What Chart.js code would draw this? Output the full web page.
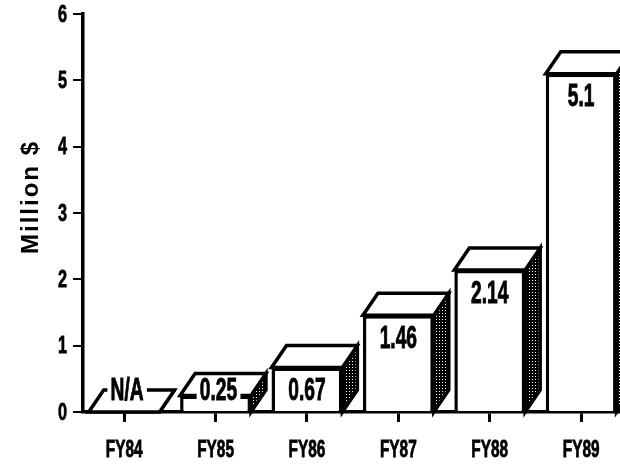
<!DOCTYPE html>
<html><head><meta charset="utf-8">
<script src="https://cdn.jsdelivr.net/npm/chart.js@4/dist/chart.umd.min.js"></script>
<style>html,body{margin:0;padding:0;background:#fff;overflow:hidden}#wrap{width:620px;height:464px;position:relative}</style>
</head><body><div id="wrap"><canvas id="c"></canvas></div>
<script>
const categories = ['FY84', 'FY85', 'FY86', 'FY87', 'FY88', 'FY89'];
const values = [null, 0.25, 0.67, 1.46, 2.14, 5.1];
const valueLabels = ['N/A', '0.25', '0.67', '1.46', '2.14', '5.1'];
const yTicks = [0, 1, 2, 3, 4, 5, 6];
const axisTitle = 'Million $';

const SANS = "'Liberation Sans', Arial, Helvetica, sans-serif";
const DX = 15, DY = 22;

function makePattern(ctx) {
  const p = document.createElement('canvas'); p.width = 3; p.height = 3;
  const g = p.getContext('2d');
  g.fillStyle = '#000'; g.fillRect(0, 0, 3, 3);
  g.fillStyle = '#fff'; g.fillRect(1, 1, 1, 1);
  return ctx.createPattern(p, 'repeat');
}

// draw narrow, tall text like the condensed face of the original
function narrowText(ctx, txt, x, y, size, sx, sy, align) {
  ctx.save();
  ctx.translate(x, y);
  ctx.scale(sx, sy);
  ctx.font = 'bold ' + size + 'px ' + SANS;
  ctx.textAlign = align || 'center';
  ctx.textBaseline = 'middle';
  ctx.fillStyle = '#000';
  ctx.strokeStyle = '#000';
  ctx.lineWidth = 0.7;
  ctx.fillText(txt, 0, 0);
  ctx.strokeText(txt, 0, 0);
  ctx.restore();
}

const box3d = {
  id: 'box3d',
  afterDatasetsDraw(chart) {
    const ctx = chart.ctx, meta = chart.getDatasetMeta(0);
    const xs = chart.scales.x, ys = chart.scales.y;
    const base = ys.getPixelForValue(0);
    const ref = meta.data.find((el, i) => values[i] != null);
    const w = ref.width;
    const pat = makePattern(ctx);
    ctx.save();
    ctx.lineWidth = 3.5; ctx.strokeStyle = '#000'; ctx.lineJoin = 'miter';
    categories.forEach((c, i) => {
      const cx = xs.getPixelForValue(i);
      const top = values[i] == null ? base : ys.getPixelForValue(values[i]);
      const l = cx - w / 2, r = cx + w / 2;
      // side face
      ctx.beginPath();
      ctx.moveTo(r, top); ctx.lineTo(r + DX, top - DY); ctx.lineTo(r + DX, base - DY); ctx.lineTo(r, base);
      ctx.closePath();
      ctx.fillStyle = pat; ctx.fill(); ctx.stroke();
      // top face
      ctx.beginPath();
      ctx.moveTo(l, top); ctx.lineTo(l + DX, top - DY); ctx.lineTo(r + DX, top - DY); ctx.lineTo(r, top);
      ctx.closePath();
      ctx.fillStyle = '#fff'; ctx.fill(); ctx.stroke();
      // value label
      const txt = valueLabels[i];
      const small = values[i] == null || (base - top) < 30;
      let tx, ty;
      if (small) {
        tx = cx + 3; ty = base - DY + 1;
        ctx.font = 'bold 24px ' + SANS;
        const tw = ctx.measureText(txt).width * 0.81;
        ctx.fillStyle = '#fff';
        ctx.fillRect(tx - tw / 2 - 3, ty - 12, tw + 6, 24);
      } else {
        tx = cx; ty = top + 24;
      }
      narrowText(ctx, txt, tx, ty, 24, 0.8, 1.3, 'center');
    });
    ctx.restore();
  },
  afterDraw(chart) {
    const ctx = chart.ctx;
    const xs = chart.scales.x, ys = chart.scales.y;
    // category labels
    categories.forEach((c, i) => {
      narrowText(ctx, c, xs.getPixelForValue(i), xs.top + 38, 20, 0.77, 1.22, 'center');
    });
    // value axis labels
    yTicks.forEach(v => {
      narrowText(ctx, String(v), ys.right - 16, ys.getPixelForValue(v) + 1, 22, 0.74, 1.1, 'right');
    });
    // axis title
    ctx.save();
    ctx.translate(31, 197);
    ctx.rotate(-Math.PI / 2);
    ctx.font = 'bold 24px ' + SANS;
    try { ctx.letterSpacing = '2px'; } catch (e) {}
    ctx.textAlign = 'center'; ctx.textBaseline = 'middle';
    ctx.fillStyle = '#000';
    ctx.fillText(axisTitle, 0, 0);
    ctx.restore();
  }
};

new Chart(document.getElementById('c'), {
  type: 'bar',
  data: {
    datasets: [{
      data: values.map((v, i) => ({ x: i, y: v })),
      backgroundColor: '#fff',
      borderColor: '#000',
      borderWidth: 3.5,
      barPercentage: 0.775,
      categoryPercentage: 1
    }]
  },
  options: {
    responsive: true, maintainAspectRatio: false, animation: false,
    devicePixelRatio: 1,
    layout: { padding: { top: 14, right: 0, left: 0, bottom: 0 } },
    plugins: { legend: { display: false }, tooltip: { enabled: false } },
    scales: {
      x: {
        type: 'linear', min: -0.45, max: 5.425, offset: false,
        afterBuildTicks: s => { s.ticks = categories.map((c, i) => ({ value: i })); },
        afterFit: s => { s.height = 52; },
        grid: { display: true, offset: false, drawOnChartArea: false, drawTicks: true, tickLength: 10, color: '#000', lineWidth: 3 },
        border: { display: true, color: '#000', width: 3.5 },
        ticks: { display: false, autoSkip: false }
      },
      y: {
        min: 0, max: 6,
        afterBuildTicks: s => { s.ticks = yTicks.map(v => ({ value: v })); },
        afterFit: s => { s.width = 83; },
        grid: { drawOnChartArea: false, drawTicks: true, tickLength: 10, color: '#000', lineWidth: 2 },
        border: { display: true, color: '#000', width: 3.5 },
        ticks: { display: false }
      }
    }
  },
  plugins: [box3d]
});
</script>
</body></html>
